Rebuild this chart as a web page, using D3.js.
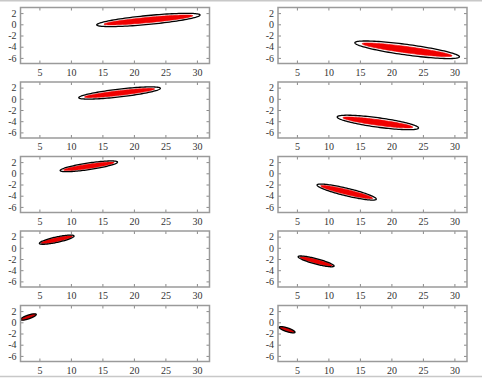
<!DOCTYPE html>
<html><head><meta charset="utf-8">
<script src="https://cdn.jsdelivr.net/npm/d3@7"></script>
<style>
html,body{margin:0;padding:0;background:#fff;}
svg{display:block;}
</style></head>
<body>
<script>
// ---- data ----
const xTicks = [5, 10, 15, 20, 25, 30];
const yTicks = [2, 0, -2, -4, -6];
const xDomain = [2, 32];
const yDomain = [-7, 3];
// left column ellipses (rows 1..5): tips and vertical half-thickness (data units)
const leftTipA = [[14.1, -0.1], [11.25, 0.2], [8.3, 0.5], [5.0, 0.8], [2.0, 0.5]];
const leftTipB = [[30.5, 1.65], [24.2, 1.87], [17.4, 2.0], [10.5, 2.1], [4.5, 1.4]];
const leftHalf = [0.8, 0.7, 0.6, 0.5, 0.35];
// right column ellipses
const rightTipA = [[14.2, -3.3], [11.4, -3.25], [8.2, -2.1], [5.2, -1.6], [2.2, -0.9]];
const rightTipB = [[30.8, -5.8], [24.3, -5.2], [17.6, -4.6], [10.9, -3.25], [4.7, -1.76]];
const rightHalf = [0.95, 0.85, 0.7, 0.5, 0.35];

// ---- layout ----
const W = 482, H = 378;
const colX = [20.5, 278];
const boxW = 189, boxH = 56;
const rowTop0 = 7.5, rowStep = 74.5;
// how much of each ellipse the red point cloud covers, per row
const cloudMaj = [0.86, 0.86, 0.88, 0.9, 0.95];
const cloudMin = [0.6, 0.6, 0.65, 0.75, 0.9];
const cloudFill = ["#f00000", "#f00000", "#f00000", "#e80000", "#d00000"];

const svg = d3.select("body").append("svg").attr("width", W).attr("height", H);
svg.append("line").attr("x1", 0).attr("x2", W).attr("y1", 0.75).attr("y2", 0.75)
  .attr("stroke", "#c8c8c8").attr("stroke-width", 1.5);
svg.append("line").attr("x1", 0).attr("x2", W).attr("y1", 376.5).attr("y2", 376.5)
  .attr("stroke", "#c8c8c8").attr("stroke-width", 1.5);

const panels = [];
for (let r = 0; r < 5; r++) {
  panels.push({ r, c: 0, a: leftTipA[r], b: leftTipB[r], h: leftHalf[r] });
  panels.push({ r, c: 1, a: rightTipA[r], b: rightTipB[r], h: rightHalf[r] });
}

function ellipsePts(a, b, h, kMaj, kMin) {
  const cx = (a[0] + b[0]) / 2, cy = (a[1] + b[1]) / 2;
  const dx = (b[0] - a[0]) / 2 * kMaj, dy = (b[1] - a[1]) / 2 * kMaj;
  return d3.range(0, 121).map(i => {
    const t = i / 120 * 2 * Math.PI;
    return [cx + Math.cos(t) * dx, cy + Math.cos(t) * dy + Math.sin(t) * h * kMin];
  });
}

panels.forEach((p, i) => {
  const x0 = colX[p.c], y0 = rowTop0 + p.r * rowStep;
  const x = d3.scaleLinear().domain(xDomain).range([x0, x0 + boxW]);
  const y = d3.scaleLinear().domain(yDomain).range([y0 + boxH, y0]);
  const g = svg.append("g");
  const clipId = "clip" + i;
  svg.append("clipPath").attr("id", clipId).append("rect")
    .attr("x", x0).attr("y", y0).attr("width", boxW).attr("height", boxH);
  const line = d3.line().x(d => x(d[0])).y(d => y(d[1])).curve(d3.curveLinearClosed);
  const pg = g.append("g").attr("clip-path", `url(#${clipId})`);
  pg.append("path").attr("d", line(ellipsePts(p.a, p.b, p.h, cloudMaj[p.r], cloudMin[p.r])))
    .attr("fill", cloudFill[p.r]).attr("stroke", cloudFill[p.r]).attr("stroke-width", 0.6);
  pg.append("path").attr("d", line(ellipsePts(p.a, p.b, p.h, 1, 1)))
    .attr("fill", "none").attr("stroke", "#000").attr("stroke-width", 1.3);

  // axes with inward ticks on all sides
  const tickColor = "#8a8a8a";
  const axB = g.append("g").attr("transform", `translate(0,${y0 + boxH})`)
    .call(d3.axisBottom(x).tickValues(xTicks).tickSize(-3).tickPadding(5).tickFormat(d3.format("d")));
  const axT = g.append("g").attr("transform", `translate(0,${y0})`)
    .call(d3.axisTop(x).tickValues(xTicks).tickSize(-3).tickFormat(""));
  const axL = g.append("g").attr("transform", `translate(${x0},0)`)
    .call(d3.axisLeft(y).tickValues(yTicks).tickSize(-3).tickPadding(4).tickFormat(d => d3.format("d")(d).replace("−", "-")));
  const axR = g.append("g").attr("transform", `translate(${x0 + boxW},0)`)
    .call(d3.axisRight(y).tickValues(yTicks).tickSize(-3).tickFormat(""));
  [axB, axT, axL, axR].forEach(ax => {
    ax.select(".domain").remove();
    ax.selectAll(".tick line").attr("stroke", tickColor).attr("stroke-width", 1);
    ax.selectAll("text").attr("font-family", "'Liberation Serif', 'DejaVu Serif', serif")
      .attr("font-size", 10).attr("fill", "#333");
  });
  g.append("rect").attr("x", x0).attr("y", y0).attr("width", boxW).attr("height", boxH)
    .attr("fill", "none").attr("stroke", "#9a9a9a").attr("stroke-width", 1.5);
});
</script>
</body></html>
